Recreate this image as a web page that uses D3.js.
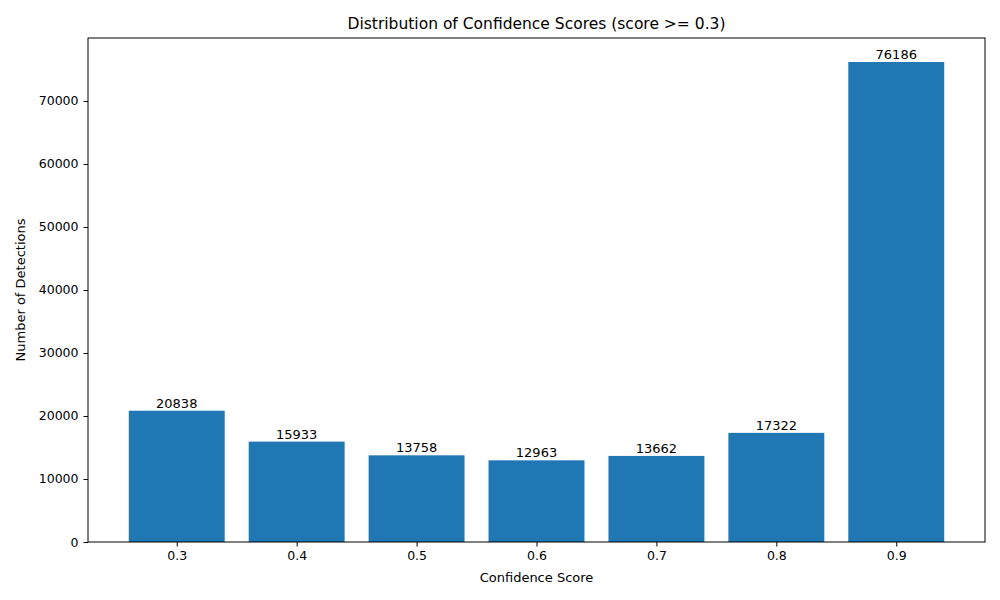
<!DOCTYPE html>
<html>
<head>
<meta charset="utf-8">
<script src="https://cdn.jsdelivr.net/npm/d3@7"></script>
<style>
body { margin: 0; background: #fff; }
text { font-family: "DejaVu Sans", sans-serif; }
</style>
</head>
<body>
<div id="chart"></div>
<script>
const scores = [0.3, 0.4, 0.5, 0.6, 0.7, 0.8, 0.9];
const counts = [20838, 15933, 13758, 12963, 13662, 17322, 76186];
const yTicks = [0, 10000, 20000, 30000, 40000, 50000, 60000, 70000];

const width = 1000, height = 600;
const margin = { top: 38, right: 15, bottom: 58, left: 88 };
const barWidth = 0.08;

const svg = d3.select("#chart").append("svg")
    .attr("width", width)
    .attr("height", height);

const lo = d3.min(scores) - barWidth / 2, hi = d3.max(scores) + barWidth / 2;
const pad = (hi - lo) * 0.05;
const x = d3.scaleLinear()
    .domain([lo - pad, hi + pad])
    .range([margin.left, width - margin.right]);

const y = d3.scaleLinear()
    .domain([0, d3.max(counts) * 1.05])
    .range([height - margin.bottom, margin.top]);

svg.selectAll("rect.bar")
    .data(scores)
    .enter().append("rect")
    .attr("class", "bar")
    .attr("x", d => x(d - barWidth / 2))
    .attr("width", d => x(d + barWidth / 2) - x(d - barWidth / 2))
    .attr("y", (d, i) => y(counts[i]))
    .attr("height", (d, i) => y(0) - y(counts[i]))
    .attr("fill", "#1f77b4");

svg.selectAll("text.lbl")
    .data(scores)
    .enter().append("text")
    .attr("class", "lbl")
    .attr("x", d => x(d))
    .attr("y", (d, i) => y(counts[i]) - 3)
    .attr("text-anchor", "middle")
    .attr("font-size", 13)
    .text((d, i) => counts[i]);

const xAxis = svg.append("g")
    .attr("transform", `translate(0,${height - margin.bottom})`)
    .call(d3.axisBottom(x).tickValues(scores).tickFormat(d3.format(".1f")).tickSizeOuter(0).tickSize(4.5).tickPadding(5));

const yAxis = svg.append("g")
    .attr("transform", `translate(${margin.left},0)`)
    .call(d3.axisLeft(y).tickValues(yTicks).tickFormat(d => d).tickSizeOuter(0).tickSize(4.5).tickPadding(5));

[xAxis, yAxis].forEach(g => {
    g.select(".domain").remove();
    g.selectAll("text").attr("font-size", 12.5).attr("font-family", "DejaVu Sans").attr("fill", "#000");
    g.selectAll("line").attr("stroke", "#000");
});

svg.append("rect")
    .attr("x", margin.left)
    .attr("y", margin.top)
    .attr("width", width - margin.left - margin.right)
    .attr("height", height - margin.top - margin.bottom)
    .attr("fill", "none")
    .attr("stroke", "#000")
    .attr("stroke-width", 1);

svg.append("text")
    .attr("x", (margin.left + width - margin.right) / 2)
    .attr("y", margin.top - 9)
    .attr("text-anchor", "middle")
    .attr("font-size", 15.5)
    .text("Distribution of Confidence Scores (score >= 0.3)");

svg.append("text")
    .attr("x", (margin.left + width - margin.right) / 2)
    .attr("y", 582)
    .attr("text-anchor", "middle")
    .attr("font-size", 13)
    .text("Confidence Score");

svg.append("text")
    .attr("transform", `translate(25,${(margin.top + height - margin.bottom) / 2}) rotate(-90)`)
    .attr("text-anchor", "middle")
    .attr("font-size", 13)
    .text("Number of Detections");
</script>
</body>
</html>
